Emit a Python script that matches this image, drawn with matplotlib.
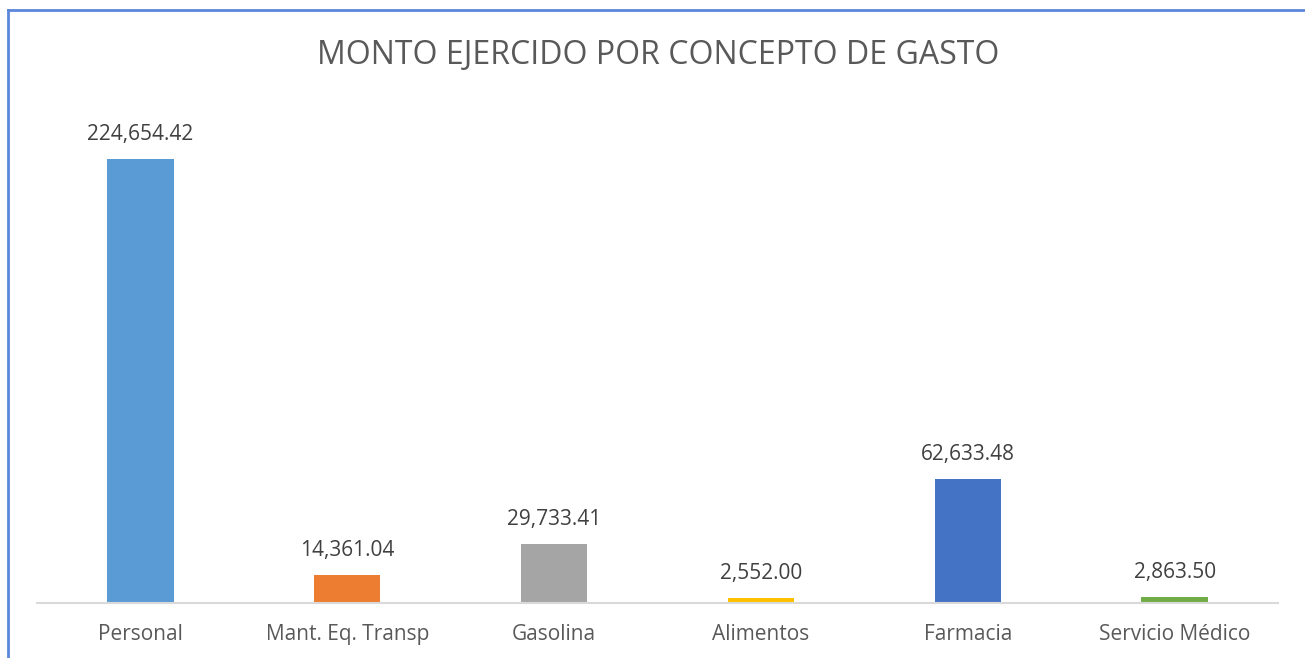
import numpy as np
import matplotlib.pyplot as plt
from matplotlib.lines import Line2D

#%% Datos
conceptos = ["Personal", "Mant. Eq. Transp", "Gasolina", "Alimentos", "Farmacia", "Servicio Médico"]
montos = [224654.42, 14361.04, 29733.41, 2552.00, 62633.48, 2863.50]
colores = ["#5B9BD5", "#ED7D31", "#A5A5A5", "#FFC000", "#4472C4", "#70AD47"]

titulo = "MONTO EJERCIDO POR CONCEPTO DE GASTO"

#%% Figura
plt.rcParams['font.family'] = ['Open Sans', 'DejaVu Sans']
fig = plt.figure(figsize=(13.05, 6.58), dpi=100)
ax = fig.add_axes([37/1305, 1 - 603/658, (1278 - 37)/1305, (603 - 109)/658])

x = np.arange(len(conceptos))
ax.bar(x, montos, width=0.32, color=colores, zorder=2)

for xi, v in zip(x, montos):
    ax.annotate(f"{v:,.2f}", (xi, v), xytext=(0, 10), textcoords="offset points",
                ha="center", va="bottom", fontsize=15, color="#404040")

ax.set_xlim(-0.5, len(conceptos) - 0.5)
ax.set_ylim(0, 250000)
ax.set_xticks(x)
ax.set_xticklabels(conceptos, fontsize=15, color="#595959")
ax.tick_params(axis="x", length=0, pad=15)
ax.set_yticks([])
for s in ["top", "right", "left"]:
    ax.spines[s].set_visible(False)
ax.spines["bottom"].set_color("#D9D9D9")
ax.spines["bottom"].set_linewidth(1.5)

fig.text(658/1305, 1 - 55/658, titulo, ha="center", va="center",
         fontsize=23, color="#595959")

# borde azul
fig.add_artist(Line2D([8/1305, 8/1305], [0, 1 - 10/658], color="#5B86D9", lw=2))
fig.add_artist(Line2D([8/1305, 1], [1 - 10/658, 1 - 10/658], color="#5B86D9", lw=2))

fig.savefig("out.png", dpi=100)
